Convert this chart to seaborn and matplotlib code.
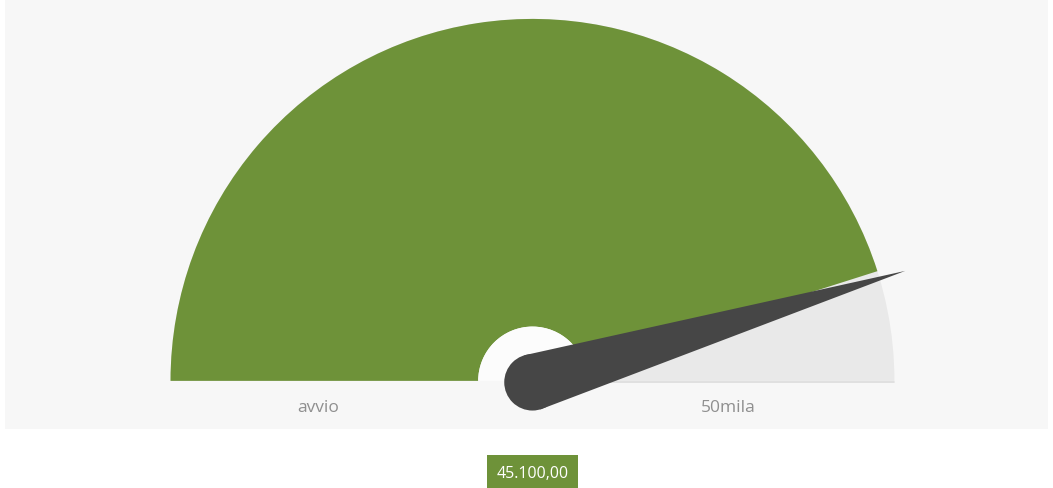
import numpy as np
import seaborn as sns
import matplotlib.pyplot as plt
from matplotlib.patches import Wedge, Circle, Polygon, Rectangle

# Gauge data
value = 45100
min_value = 0
max_value = 50000
min_label = "avvio"
max_label = "50mila"
value_label = "45.100,00"

green = "#6e9239"
track = "#e9e9e9"
needle_color = "#464646"

sns.set_theme(style="white")
plt.rcParams["font.family"] = ["Open Sans", "DejaVu Sans"]

fig = plt.figure(figsize=(10.53, 4.89), dpi=100)
ax = fig.add_axes([0, 0, 1, 1])
ax.set_xlim(-1.471, 1.438)
ax.set_ylim(-0.296, 1.055)
ax.set_aspect("equal")
ax.axis("off")

# light panel behind the gauge
ax.add_patch(Rectangle((0.005, 0.12), 0.99, 0.88, transform=ax.transAxes,
                       facecolor="#f7f7f7", edgecolor="none", zorder=0))

frac = (value - min_value) / (max_value - min_value)
angle = 180 - frac * 180

inner = 0.15
ax.add_patch(Wedge((0, 0), 1.0, 0, 180, width=1 - inner, facecolor=track,
                   edgecolor="none", zorder=1))
ax.add_patch(Wedge((0, 0), 1.0, angle, 180, width=1 - inner, facecolor=green,
                   edgecolor="none", zorder=2))
ax.add_patch(Wedge((0, 0), inner, 0, 180, facecolor="#fcfcfc",
                   edgecolor="none", zorder=2))
ax.plot([0.15, 1.0], [-0.004, -0.004], color="#dcdcdc", lw=1.2, zorder=1)

# needle
t = np.radians(angle - 1.0)
base_r = 0.078
tip_len = 1.075
cx, cy = 0.0, -0.004
tip = (cx + tip_len * np.cos(t), cy + tip_len * np.sin(t))
p1 = (cx + base_r * np.cos(t + np.pi / 2), cy + base_r * np.sin(t + np.pi / 2))
p2 = (cx + base_r * np.cos(t - np.pi / 2), cy + base_r * np.sin(t - np.pi / 2))
ax.add_patch(Polygon([p1, tip, p2], closed=True, facecolor=needle_color,
                     edgecolor="none", zorder=4))
ax.add_patch(Circle((cx, cy), base_r, facecolor=needle_color, edgecolor="none", zorder=4))

# labels
ax.text(-0.593, -0.072, min_label, ha="center", va="center", fontsize=12.5,
        color="#8f8f8f", zorder=5)
ax.text(0.54, -0.072, max_label, ha="center", va="center", fontsize=12.5,
        color="#8f8f8f", zorder=5)
ax.text(0.0, -0.254, value_label, ha="center", va="center", fontsize=11.5,
        color="white", zorder=5,
        bbox=dict(boxstyle="square,pad=0.6", facecolor=green, edgecolor="none"))

fig.savefig("out.png", dpi=100)
